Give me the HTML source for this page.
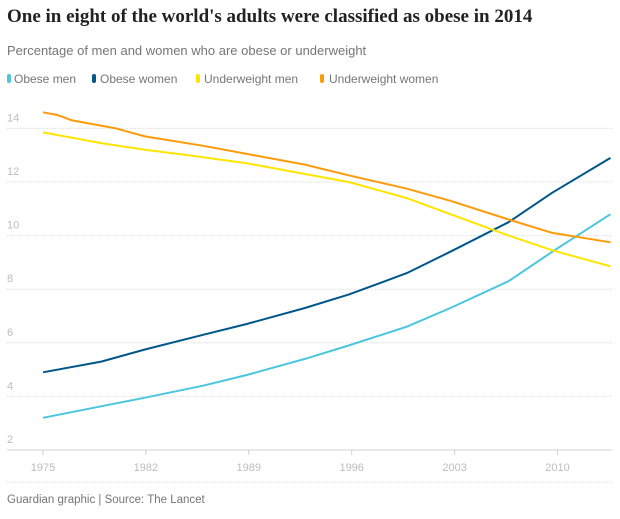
<!DOCTYPE html>
<html><head><meta charset="utf-8"><style>
body{margin:0;background:#fff;width:620px;height:514px;overflow:hidden;font-family:"Liberation Sans",sans-serif}
</style></head><body>
<svg width="620" height="514" xmlns="http://www.w3.org/2000/svg" font-family="Liberation Sans, sans-serif">
<text x="7" y="22" font-family="Liberation Serif, serif" font-weight="bold" font-size="19" fill="#222">One in eight of the world's adults were classified as obese in 2014</text>
<text x="7" y="55" font-size="13" fill="#767676">Percentage of men and women who are obese or underweight</text>
<g font-size="12" fill="#767676">
<rect x="7" y="74" width="4" height="9" rx="2" fill="#4bc6df"/><text x="14" y="83">Obese men</text>
<rect x="92" y="74" width="4" height="9" rx="2" fill="#005689"/><text x="100" y="83">Obese women</text>
<rect x="196" y="74" width="4" height="9" rx="2" fill="#ffe500"/><text x="204" y="83">Underweight men</text>
<rect x="320" y="74" width="4" height="9" rx="2" fill="#ff9b0b"/><text x="329" y="83">Underweight women</text>
</g>
<g id="grid" stroke="#dcdcdc" stroke-dasharray="1,1"></g>
<g id="lab" font-size="11" fill="#bdbdbd"></g>
<line x1="7" y1="450" x2="612" y2="450" stroke="#d0d0d0"/>
<g id="xt" font-size="11" fill="#bdbdbd" text-anchor="middle"></g>
<g id="lines" fill="none" stroke-width="2" stroke-linejoin="round"></g>
<line x1="7" y1="482" x2="612" y2="482" stroke="#dcdcdc" stroke-dasharray="1,1"/>
<text x="7" y="503" font-size="11.5" fill="#767676">Guardian graphic | Source: The Lancet</text>
</svg>
<script>
var ns="http://www.w3.org/2000/svg";
function el(p,t,a,txt){var e=document.createElementNS(ns,t);for(var k in a)e.setAttribute(k,a[k]);if(txt)e.textContent=txt;document.getElementById(p).appendChild(e);}
function Y(v){return 450-(v-2)*26.8}
function X(y){return 43+(y-1975)*14.55}
for(var v=4;v<=14;v+=2){el('grid','line',{x1:7,x2:612,y1:Y(v),y2:Y(v)});}
for(var v=2;v<=14;v+=2){el('lab','text',{x:7,y:Y(v)-7},String(v));}
[1975,1982,1989,1996,2003,2010].forEach(function(y){var x=43+(y-1975)*14.7;el('xt','line',{x1:x,x2:x,y1:450,y2:455,stroke:'#d0d0d0'});el('xt','text',{x:x,y:471},String(y));});
var S=[
["#4bc6df",[[1975,3.2],[1982,3.95],[1986,4.4],[1989,4.8],[1993,5.4],[1996,5.9],[2000,6.6],[2003,7.3],[2007,8.3],[2010,9.4],[2014,10.8]]],
["#005689",[[1975,4.9],[1979,5.3],[1982,5.75],[1986,6.3],[1989,6.7],[1993,7.3],[1996,7.8],[2000,8.6],[2003,9.4],[2007,10.5],[2010,11.6],[2014,12.9]]],
["#ffe500",[[1975,13.85],[1979,13.45],[1982,13.2],[1985,13.0],[1989,12.7],[1993,12.3],[1996,12.0],[2000,11.4],[2003,10.8],[2007,10.0],[2010,9.45],[2014,8.85]]],
["#ff9b0b",[[1975,14.6],[1976,14.5],[1977,14.3],[1980,14.0],[1982,13.7],[1986,13.35],[1989,13.05],[1993,12.65],[1996,12.25],[2000,11.75],[2003,11.3],[2007,10.6],[2010,10.1],[2014,9.75]]]
];
S.forEach(function(s){var pts=s[1].map(function(p){return X(p[0]).toFixed(1)+","+Y(p[1]).toFixed(1)}).join(" ");el('lines','polyline',{points:pts,stroke:s[0]});});
</script>
</body></html>
